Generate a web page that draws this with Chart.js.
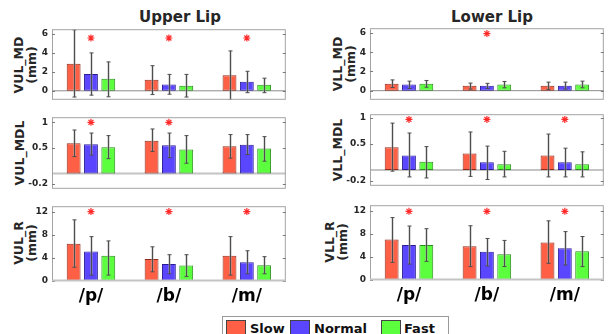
<!DOCTYPE html>
<html><head><meta charset="utf-8">
<script src="https://cdn.jsdelivr.net/npm/chart.js@4"></script>
<style>
html,body{margin:0;padding:0;background:#fff;}
#wrap{position:relative;width:609px;height:334px;overflow:hidden;background:#fff;font-family:"DejaVu Sans",sans-serif;}
canvas{position:absolute;}
.t{position:absolute;font-weight:bold;color:#262626;white-space:nowrap;}
.yl{position:absolute;font-weight:bold;color:#262626;white-space:nowrap;text-align:center;font-size:12.5px;line-height:12.5px;transform:translate(-50%,-50%) rotate(-90deg);}
#legend{position:absolute;left:222px;top:316px;width:225px;height:30px;border:1px solid #9a9a9a;background:#fff;}
.sw{position:absolute;top:3px;width:18px;height:18px;border:1px solid #444;}
.lt{position:absolute;top:4px;font-weight:bold;font-size:13px;color:#111;}
</style></head>
<body><div id="wrap">
<div class="t" style="left:180px;top:17px;transform:translate(-50%,-50%);font-size:15px;">Upper Lip</div>
<div class="t" style="left:492px;top:17px;transform:translate(-50%,-50%);font-size:15px;">Lower Lip</div>
<div class="yl" style="left:24.5px;top:64.5px;">VUL_MD<br>(mm)</div>
<div class="yl" style="left:20px;top:153px;">VUL_MDL</div>
<div class="yl" style="left:24.5px;top:242.5px;">VUL_R<br>(mm)</div>
<div class="yl" style="left:344px;top:64px;">VLL_MD<br>(mm)</div>
<div class="yl" style="left:337.5px;top:150px;">VLL_MDL</div>
<div class="yl" style="left:336px;top:241.5px;">VLL_R<br>(mm)</div>
<div id="legend">
 <div class="sw" style="left:3px;background:#FF5F45;"></div><div class="lt" style="left:27px;">Slow</div>
 <div class="sw" style="left:67px;background:#5A46FF;"></div><div class="lt" style="left:91px;">Normal</div>
 <div class="sw" style="left:158px;background:#5CFF3E;"></div><div class="lt" style="left:181px;">Fast</div>
</div>
</div>
<script>
const categories = ['/p/', '/b/', '/m/'];
const seriesNames = ['Slow', 'Normal', 'Fast'];

// rows = Slow, Normal, Fast ; columns = /p/, /b/, /m/
const vulMdMean = [[2.85, 1.16, 1.63], [1.76, 0.67, 0.96], [1.26, 0.54, 0.63]];
const vulMdLow  = [[-0.66, -0.40, -0.96], [-0.46, -0.36, -0.20], [-0.63, -0.66, -0.20]];
const vulMdHigh = [[6.43, 2.65, 4.21], [4.00, 1.73, 2.06], [3.05, 1.73, 1.33]];
const vulMdStar = [5.57, 5.57, 5.57];

const vulMdlMean = [[0.59, 0.64, 0.53], [0.57, 0.55, 0.56], [0.51, 0.47, 0.49]];
const vulMdlLow  = [[0.33, 0.43, 0.30], [0.36, 0.31, 0.37], [0.29, 0.20, 0.24]];
const vulMdlHigh = [[0.85, 0.87, 0.76], [0.79, 0.79, 0.76], [0.74, 0.74, 0.72]];
const vulMdlStar = [1.0, 1.0, null];

const vulRMean = [[6.46, 3.83, 4.40], [5.14, 2.97, 3.26], [4.40, 2.69, 2.74]];
const vulRLow  = [[2.40, 1.60, 1.03], [1.03, 1.26, 1.26], [1.03, 0.80, 1.26]];
const vulRHigh = [[10.63, 5.94, 7.71], [7.71, 4.57, 5.26], [6.97, 4.57, 4.23]];
const vulRStar = [12.06, 12.06, 12.06];

const vllMdMean = [[0.73, 0.50, 0.50], [0.63, 0.50, 0.50], [0.73, 0.63, 0.63]];
const vllMdLow  = [[0.33, 0.16, 0.13], [0.23, 0.23, 0.16], [0.36, 0.30, 0.30]];
const vllMdHigh = [[1.12, 0.79, 0.89], [0.99, 0.76, 0.89], [1.06, 0.96, 0.99]];
const vllMdStar = [null, 5.94, null];

const vllMdlMean = [[0.44, 0.32, 0.28], [0.28, 0.15, 0.15], [0.16, 0.11, 0.11]];
const vllMdlLow  = [[-0.02, -0.12, -0.13], [-0.13, -0.18, -0.13], [-0.15, -0.13, -0.13]];
const vllMdlHigh = [[0.90, 0.73, 0.69], [0.71, 0.46, 0.42], [0.45, 0.36, 0.35]];
const vllMdlStar = [0.97, 0.97, 0.97];

const vllRMean = [[7.05, 5.85, 6.53], [6.08, 4.89, 5.51], [6.08, 4.49, 5.00]];
const vllRLow  = [[3.07, 2.33, 2.90], [2.78, 2.44, 2.61], [3.24, 2.33, 2.33]];
const vllRHigh = [[10.85, 9.43, 10.28], [9.38, 7.22, 8.41], [8.92, 6.88, 7.56]];
const vllRStar = [11.93, 11.93, 11.93];

const mdTicks = [0, 2, 4, 6];
const mdlTicks = [-0.2, 0.5, 1];
const rTicks = [0, 4, 8, 12];

const fillColors = ['#FF5F45', '#5A46FF', '#5CFF3E'];
const edgeColors = ['#8E2B1B', '#2B1C96', '#2A8C1C'];

const AXW = 50, PT = 3, PR = 3, PB = 3, XH = 30;

function makePanel(cfg) {
  const wrap = document.getElementById('wrap');
  const cv = document.createElement('canvas');
  const w = AXW + cfg.w + PR;
  const h = PT + cfg.h + (cfg.xlab ? XH : PB);
  cv.width = w; cv.height = h;
  cv.style.left = (cfg.x - AXW) + 'px';
  cv.style.top = (cfg.y - PT) + 'px';
  cv.style.width = w + 'px'; cv.style.height = h + 'px';
  wrap.appendChild(cv);

  const datasets = seriesNames.map((name, k) => ({
    type: 'bar', label: name, data: cfg.mean[k],
    backgroundColor: fillColors[k], borderColor: edgeColors[k], borderWidth: 1,
    borderSkipped: false, categoryPercentage: 0.667, barPercentage: 0.8
  }));
  datasets.push({
    type: 'line', label: 'sig', data: cfg.star, showLine: false,
    pointStyle: 'star', pointRadius: 3.5, pointBorderColor: '#FF2A2A',
    pointBackgroundColor: '#FF2A2A', pointBorderWidth: 1.2
  });

  const deco = {
    id: 'deco',
    beforeDatasetsDraw(chart) {
      const a = chart.chartArea, ctx = chart.ctx, ys = chart.scales.y;
      if (cfg.zero) {
        const y0 = ys.getPixelForValue(0);
        ctx.save();
        ctx.strokeStyle = cfg.zero.color; ctx.lineWidth = cfg.zero.width;
        ctx.beginPath(); ctx.moveTo(a.left, y0); ctx.lineTo(a.right, y0); ctx.stroke();
        ctx.restore();
      }
    },
    afterDatasetsDraw(chart) {
      const a = chart.chartArea, ctx = chart.ctx, ys = chart.scales.y;
      ctx.save();
      ctx.beginPath(); ctx.rect(a.left, a.top, a.right - a.left, a.bottom - a.top); ctx.clip();
      for (let k = 0; k < 3; k++) {
        const meta = chart.getDatasetMeta(k);
        meta.data.forEach((bar, i) => {
          const x = Math.round(bar.x) + 0.5;
          const yl = ys.getPixelForValue(cfg.low[k][i]);
          const yh = ys.getPixelForValue(cfg.high[k][i]);
          ctx.strokeStyle = 'rgba(170,170,170,0.55)'; ctx.lineWidth = 2.5;
          ctx.beginPath(); ctx.moveTo(x, yl); ctx.lineTo(x, yh); ctx.stroke();
          ctx.strokeStyle = '#4d4d4d'; ctx.lineWidth = 1;
          ctx.beginPath();
          ctx.moveTo(x, yl); ctx.lineTo(x, yh);
          ctx.moveTo(x - 2, yl); ctx.lineTo(x + 2, yl);
          ctx.moveTo(x - 2, yh); ctx.lineTo(x + 2, yh);
          ctx.stroke();
        });
      }
      ctx.restore();
    },
    afterDraw(chart) {
      const a = chart.chartArea, ctx = chart.ctx, ys = chart.scales.y;
      ctx.save();
      ctx.strokeStyle = '#a3a3a3'; ctx.lineWidth = 1;
      ctx.strokeRect(a.left + 0.5, a.top + 0.5, a.right - a.left - 1, a.bottom - a.top - 1);
      ctx.strokeStyle = '#7a7a7a';
      ctx.beginPath();
      cfg.ticks.forEach(v => {
        const y = Math.round(ys.getPixelForValue(v)) + 0.5;
        ctx.moveTo(a.left, y); ctx.lineTo(a.left + 3, y);
        ctx.moveTo(a.right - 3, y); ctx.lineTo(a.right, y);
      });
      ctx.stroke();
      if (cfg.xlab) {
        ctx.strokeStyle = '#c4c4c4'; ctx.lineWidth = 2;
        ctx.beginPath(); ctx.moveTo(a.left, a.bottom - 0.5); ctx.lineTo(a.right, a.bottom - 0.5); ctx.stroke();
      }
      ctx.restore();
    }
  };

  new Chart(cv, {
    data: { labels: categories, datasets },
    options: {
      responsive: false, animation: false, devicePixelRatio: 1,
      layout: { padding: { left: 0, right: PR, top: PT, bottom: cfg.xlab ? 0 : PB } },
      plugins: { legend: { display: false }, tooltip: { enabled: false } },
      scales: {
        x: {
          display: !!cfg.xlab, offset: true,
          grid: { display: false, drawTicks: false }, border: { display: false },
          ticks: { font: { family: 'DejaVu Sans', size: 17, weight: 'bold' }, color: '#000', padding: 5, maxRotation: 0 },
          afterFit(s) {
            s.height = cfg.xlab ? XH : 0;
            s.paddingLeft = 0; s.paddingRight = 0;
          }
        },
        y: {
          min: cfg.min, max: cfg.max,
          grid: { display: false, drawTicks: false }, border: { display: false },
          ticks: { font: { family: 'DejaVu Sans', size: 9, weight: 'bold' }, color: '#262626', padding: 4,
                   callback: v => String(v) },
          afterBuildTicks(s) { s.ticks = cfg.ticks.map(v => ({ value: v })); },
          afterFit(s) { s.width = AXW; s.paddingTop = 0; s.paddingBottom = 0; }
        }
      }
    },
    plugins: [deco]
  });
}

makePanel({ x: 52, y: 27, w: 236, h: 75, min: -0.95, max: 6.5, ticks: mdTicks,
  mean: vulMdMean, low: vulMdLow, high: vulMdHigh, star: vulMdStar, zero: { color: '#8c8c8c', width: 1 } });
makePanel({ x: 52, y: 115, w: 236, h: 76, min: -0.3, max: 1.1, ticks: mdlTicks,
  mean: vulMdlMean, low: vulMdlLow, high: vulMdlHigh, star: vulMdlStar, zero: { color: '#c4c4c4', width: 2 } });
makePanel({ x: 52, y: 204, w: 236, h: 77, min: 0, max: 13, ticks: rTicks, xlab: true,
  mean: vulRMean, low: vulRLow, high: vulRHigh, star: vulRStar });
makePanel({ x: 370, y: 26, w: 236, h: 76, min: -0.95, max: 6.5, ticks: mdTicks,
  mean: vllMdMean, low: vllMdLow, high: vllMdHigh, star: vllMdStar, zero: { color: '#8c8c8c', width: 1 } });
makePanel({ x: 370, y: 112, w: 236, h: 76, min: -0.3, max: 1.07, ticks: mdlTicks,
  mean: vllMdlMean, low: vllMdlLow, high: vllMdlHigh, star: vllMdlStar, zero: { color: '#c4c4c4', width: 2 } });
makePanel({ x: 370, y: 203, w: 236, h: 77, min: 0, max: 13, ticks: rTicks, xlab: true,
  mean: vllRMean, low: vllRLow, high: vllRHigh, star: vllRStar });
</script>
</body></html>
